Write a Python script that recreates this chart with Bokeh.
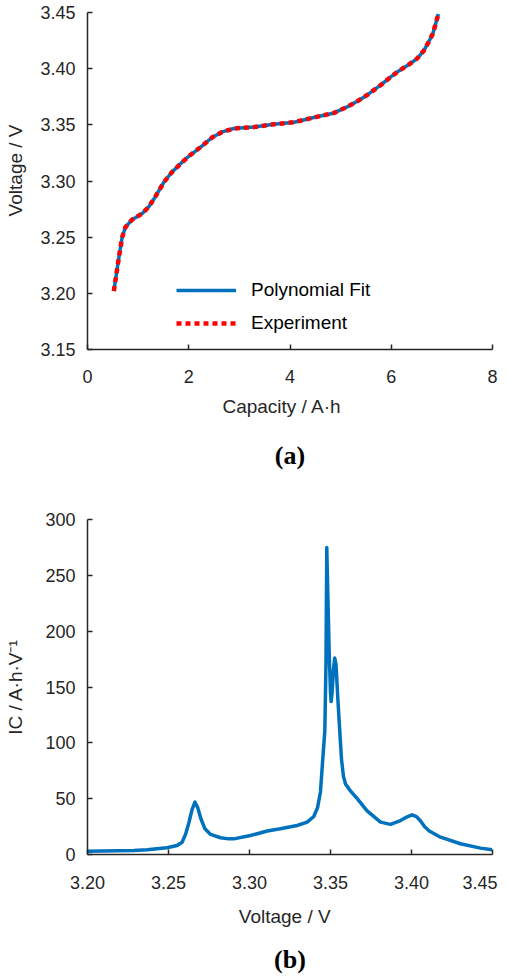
from bokeh.plotting import figure
from bokeh.layouts import column
from bokeh.models import (Title, Legend, LegendItem, FixedTicker, Range1d,
                          NumeralTickFormatter, LinearAxis)
from bokeh.embed import file_html
from bokeh.resources import INLINE

# ---- (a) voltage vs capacity ----
capacity = [0.52, 0.62, 0.685, 0.75, 0.88, 1.08, 1.21, 1.34, 1.51, 1.67, 1.84, 2.0,
            2.23, 2.46, 2.66, 2.89, 3.29, 3.68, 4.08, 4.47, 4.87, 5.13, 5.33, 5.52,
            5.79, 5.99, 6.15, 6.35, 6.51, 6.64, 6.74, 6.82, 6.87, 6.93]
voltage = [3.202, 3.232, 3.250, 3.259, 3.2656, 3.271, 3.277, 3.286, 3.299, 3.308,
           3.3155, 3.322, 3.330, 3.3387, 3.3437, 3.3467, 3.348, 3.3505, 3.3523,
           3.3565, 3.3606, 3.366, 3.371, 3.3764, 3.3853, 3.3927, 3.398, 3.4037,
           3.409, 3.4158, 3.4239, 3.431, 3.4388, 3.4486]
exp_capacity = capacity
exp_voltage = voltage
a_xticks = [0, 2, 4, 6, 8]
a_yticks = [3.15, 3.20, 3.25, 3.30, 3.35, 3.40, 3.45]

# ---- (b) incremental capacity ----
ic_voltage = [3.200, 3.2286, 3.2368, 3.249, 3.2553, 3.2584, 3.2605, 3.2625, 3.2645,
              3.2663, 3.2680, 3.2700, 3.2725, 3.2760, 3.2821, 3.2872, 3.2903, 3.3006,
              3.311, 3.319, 3.3294, 3.3356, 3.3397, 3.3420, 3.3438, 3.3452, 3.3465,
              3.3472, 3.3477, 3.3484, 3.3492, 3.3500, 3.3504, 3.3510, 3.3518, 3.3526,
              3.3534, 3.3545, 3.3557, 3.3568, 3.3580, 3.3593, 3.3623, 3.3665, 3.3726,
              3.3809, 3.3870, 3.3932, 3.3970, 3.4004, 3.4030, 3.4056, 3.4080, 3.4110,
              3.4179, 3.4302, 3.4426, 3.4498]
ic_values = [3.0, 3.6, 4.2, 6.0, 8.0, 11.0, 18.0, 28.0, 40.0,
             47.0, 42.0, 32.0, 23.0, 18.0, 15.0, 14.0, 14.0, 17.0,
             21.0, 23.0, 26.0, 29.0, 34.0, 42.0, 56.0, 85.0, 111.0,
             170.0, 275.0, 230.0, 180.0, 145.0, 137.0, 145.0, 165.0, 176.0,
             170.0, 140.0, 111.0, 85.0, 70.0, 63.0, 57.0, 50.0, 39.0,
             29.0, 27.0, 30.4, 33.5, 35.5, 34.0, 30.0, 25.0, 21.0,
             15.5, 9.6, 5.7, 4.2]
b_xticks = [3.20, 3.25, 3.30, 3.35, 3.40, 3.45]
b_yticks = [0, 50, 100, 150, 200, 250, 300]

FONT = "Liberation Sans"
AXC = "#262626"
BLUE = "#0072BD"
RED = "#FF0000"
NB = "\u00a0"


def style(p, ylab_standoff):
    for ax in (p.xaxis[0], p.yaxis[0]):
        ax.axis_line_color = AXC
        ax.axis_line_width = 1.5
        ax.major_tick_in = 5
        ax.major_tick_out = 0
        ax.minor_tick_line_color = None
        ax.major_tick_line_color = AXC
        ax.major_tick_line_width = 1.5
        ax.major_label_text_font = FONT
        ax.major_label_text_font_size = "18px"
        ax.major_label_text_color = AXC
        ax.axis_label_text_font = FONT
        ax.axis_label_text_font_size = "19px"
        ax.axis_label_text_font_style = "normal"
        ax.axis_label_text_color = AXC
    p.xaxis[0].major_label_standoff = 20
    p.xaxis[0].axis_label_standoff = 10
    p.yaxis[0].major_label_standoff = 12
    p.yaxis[0].axis_label_standoff = ylab_standoff
    p.xgrid.visible = False
    p.ygrid.visible = False
    p.outline_line_color = None
    p.background_fill_color = "white"
    p.border_fill_color = "white"


# Figure (a)
p1 = figure(width=507, height=506, output_backend="svg", toolbar_location=None,
            x_range=Range1d(0, 8), y_range=Range1d(3.15, 3.45),
            min_border_left=87, min_border_right=15, min_border_top=12,
            min_border_bottom=157)
style(p1, 11)
p1.xaxis[0].ticker = FixedTicker(ticks=a_xticks)
p1.yaxis[0].ticker = FixedTicker(ticks=a_yticks)
p1.yaxis[0].formatter = NumeralTickFormatter(format="0.00")
p1.xaxis[0].axis_label = "Capacity / A·h" + NB * 3
p1.yaxis[0].axis_label = NB * 4 + "Voltage / V"

r_fit = p1.line(capacity, voltage, line_color=BLUE, line_width=3.5, line_join="round")
r_exp = p1.line(exp_capacity, exp_voltage, line_color=RED, line_width=4.5,
                line_dash="5 4")
leg = Legend(items=[LegendItem(label="Polynomial Fit", renderers=[r_fit]),
                    LegendItem(label="Experiment", renderers=[r_exp])],
             location=(89, 15), padding=0, margin=0, spacing=11,
             glyph_width=60, glyph_height=20, label_height=20, label_standoff=15,
             border_line_color=None, background_fill_alpha=0,
             label_text_font=FONT, label_text_font_size="19px",
             label_text_color="black")
p1.add_layout(leg, "center")
p1.add_layout(Title(text="(a)", align="center", text_font="Liberation Serif",
                    text_font_size="26px", text_font_style="bold",
                    text_color="black", standoff=39), "below")

# Figure (b)
p2 = figure(width=507, height=471, output_backend="svg", toolbar_location=None,
            x_range=Range1d(3.20, 3.45), y_range=Range1d(0, 300),
            min_border_left=87, min_border_right=15, min_border_top=13,
            min_border_bottom=123)
style(p2, 16)
p2.xaxis[0].major_label_standoff = 18
p2.xaxis[0].axis_label_standoff = 10
p2.xaxis[0].ticker = FixedTicker(ticks=b_xticks)
p2.yaxis[0].ticker = FixedTicker(ticks=b_yticks)
p2.xaxis[0].formatter = NumeralTickFormatter(format="0.00")
p2.xaxis[0].major_label_overrides = {b_xticks[-1]: "%.2f" % b_xticks[-1] + NB * 2}
p2.xaxis[0].axis_label = "Voltage / V" + NB * 2
p2.yaxis[0].axis_label = "IC / A·h·V⁻¹"
p2.line(ic_voltage, ic_values, line_color=BLUE, line_width=3.5, line_join="round")

cap_axis = LinearAxis(ticker=FixedTicker(ticks=[]), axis_line_color=None,
                      major_tick_in=0, major_tick_out=0, minor_tick_in=0,
                      minor_tick_out=0, major_label_standoff=0,
                      axis_label="(b)", axis_label_text_font="Liberation Serif",
                      axis_label_text_font_size="26px",
                      axis_label_text_font_style="bold",
                      axis_label_text_color="black", axis_label_standoff=15)
p2.add_layout(cap_axis, "below")

layout = column(p1, p2, spacing=0)
open("out.html", "w").write(file_html(layout, INLINE))
